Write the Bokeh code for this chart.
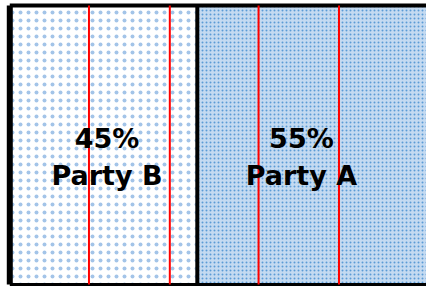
from bokeh.plotting import figure
from bokeh.models import ColumnDataSource, Range1d
from bokeh.embed import file_html
from bokeh.resources import INLINE
from bokeh.core.properties import value

# ---- data ----
parties = ["Party B", "Party A"]
shares = [45, 55]
labels_pct = ["45%", "55%"]
grid_x = [19.0, 38.4, 59.7, 79.0]   # red vertical lines (share axis units)

# derived
lefts = [0, shares[0]]
rights = [shares[0], shares[0] + shares[1]]
total = rights[-1]

W, H = 426, 288
p = figure(width=W, height=H, output_backend="svg", toolbar_location=None,
           x_range=Range1d(-2.23, 100), y_range=Range1d(-0.0143, 1.0176),
           min_border=0, outline_line_color=None)
p.axis.visible = False
p.grid.visible = False
p.background_fill_color = "white"
p.border_fill_color = "white"

# Party B (sparse dots)
p.quad(left=[lefts[0]], right=[rights[0]], bottom=[0], top=[1],
       fill_color="white", line_color=None,
       hatch_pattern="dot", hatch_scale=8, hatch_color="#a3c4e8", hatch_weight=1)
# Party A (dense dots)
p.quad(left=[lefts[1]], right=[rights[1]], bottom=[0], top=[1],
       fill_color="#c4daf1", line_color=None,
       hatch_pattern="dot", hatch_scale=4, hatch_color="#5b9bd5", hatch_weight=1)

# borders: top, bottom, left, divider
p.segment(x0=[0, shares[0]], x1=[total, shares[0]],
          y0=[1, 0], y1=[1, 1], line_color="black", line_width=4)
p.segment(x0=[0], x1=[total], y0=[0], y1=[0], line_color="black", line_width=3)
p.segment(x0=[0], x1=[0], y0=[0], y1=[1], line_color="black", line_width=6)

# red lines
p.segment(x0=grid_x, x1=grid_x, y0=[0]*len(grid_x), y1=[1]*len(grid_x),
          line_color="#ff0000", line_width=2)

centers = [(l + r) / 2 for l, r in zip(lefts, rights)]
src = ColumnDataSource(dict(x=centers, pct=labels_pct, name=parties,
                            xo=[3.5, -10.5]))
p.text(x="x", y=0.5224, text="pct", source=src, x_offset="xo",
       text_font=value("DejaVu Sans"), text_font_style="bold",
       text_font_size="27px", text_color="black",
       text_align="center", text_baseline="alphabetic")
p.text(x="x", y=0.390, text="name", source=src, x_offset="xo",
       text_font=value("DejaVu Sans"), text_font_style="bold",
       text_font_size="27px", text_color="black",
       text_align="center", text_baseline="alphabetic")

open("out.html", "w").write(file_html(p, INLINE))
